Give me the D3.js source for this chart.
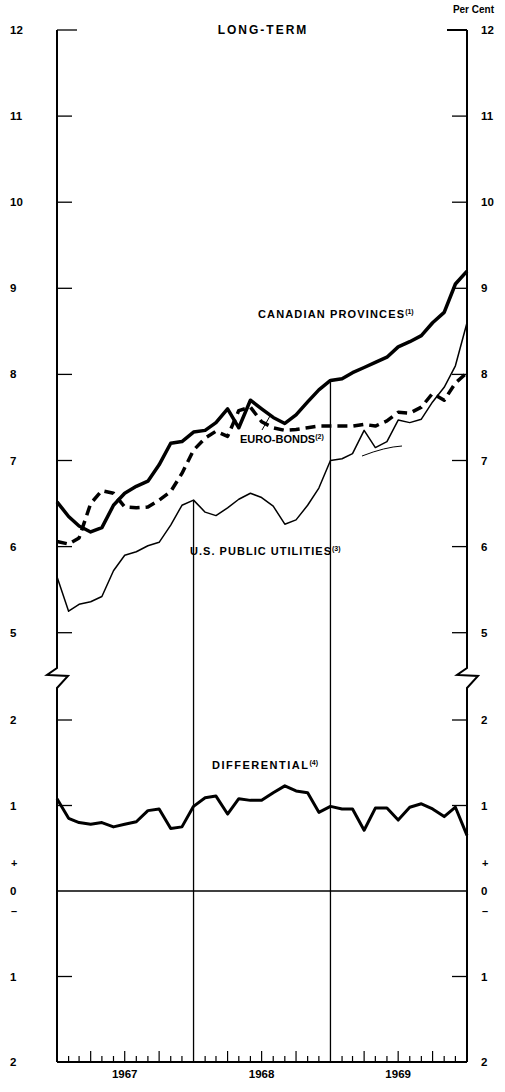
<!DOCTYPE html>
<html>
<head>
<meta charset="utf-8">
<script src="https://cdnjs.cloudflare.com/ajax/libs/d3/7.8.5/d3.min.js"></script>
<style>
  body { margin: 0; background: #fff; }
  text { font-family: "Liberation Sans", Arial, sans-serif; font-weight: bold; fill: #000; }
</style>
</head>
<body>
<div id="vis"></div>
<script>
const W = 505, H = 1092;
const x0 = 57, x1 = 467;

// monthly observations, Jan 1967 .. Jan 1970
const months = d3.timeMonth.range(new Date(1967, 0, 1), new Date(1970, 0, 2));

const canadian = [6.52, 6.35, 6.24, 6.17, 6.22, 6.48, 6.62, 6.70, 6.76, 6.95, 7.20, 7.22,
  7.33, 7.35, 7.44, 7.60, 7.38, 7.70, 7.60, 7.50, 7.43, 7.53, 7.68, 7.82,
  7.93, 7.95, 8.02, 8.08, 8.14, 8.20, 8.32, 8.38, 8.45, 8.60, 8.72, 9.05, 9.20];
const euroBonds = [6.06, 6.03, 6.10, 6.50, 6.65, 6.62, 6.46, 6.45, 6.46, 6.54, 6.64, 6.85,
  7.12, 7.26, 7.34, 7.28, 7.58, 7.62, 7.45, 7.38, 7.35, 7.36, 7.38, 7.40,
  7.40, 7.40, 7.40, 7.42, 7.40, 7.46, 7.56, 7.55, 7.62, 7.78, 7.70, 7.90, 8.02];
const usUtilities = [5.65, 5.25, 5.33, 5.36, 5.42, 5.72, 5.90, 5.94, 6.01, 6.05, 6.25, 6.48,
  6.54, 6.40, 6.36, 6.45, 6.55, 6.62, 6.57, 6.47, 6.26, 6.31, 6.48, 6.68,
  7.00, 7.02, 7.08, 7.35, 7.15, 7.22, 7.47, 7.44, 7.48, 7.68, 7.85, 8.10, 8.60];
const differential = [1.08, 0.85, 0.80, 0.78, 0.80, 0.75, 0.78, 0.81, 0.94, 0.96, 0.73, 0.75,
  0.99, 1.09, 1.11, 0.90, 1.08, 1.06, 1.06, 1.15, 1.23, 1.17, 1.15, 0.92,
  0.99, 0.96, 0.96, 0.71, 0.97, 0.97, 0.83, 0.98, 1.02, 0.96, 0.87, 0.98, 0.65];

const upperTicks = [5, 6, 7, 8, 9, 10, 11, 12];
const lowerTicks = [-2, -1, 0, 1, 2];
const years = [1967, 1968, 1969];
// year dividers start at these values on the upper scale
const dividerDates = [new Date(1968, 0, 1), new Date(1969, 0, 1)];
const dividerTops = [6.54, 7.93];

const svg = d3.select('#vis').append('svg')
  .attr('width', W).attr('height', H);

const x = d3.scaleTime().domain([new Date(1967, 0, 1), new Date(1970, 0, 1)]).range([x0, x1]);
const yU = d3.scaleLinear().domain([5, 12]).range([632.7, 30]);
const yL = d3.scaleLinear().domain([-2, 2]).range([1062, 720]);

// axes with break zigzags
function axisPath(ax) {
  const p = d3.path();
  p.moveTo(ax, yU(12));
  p.lineTo(ax, 668);
  p.lineTo(ax - 10, 675);
  p.lineTo(ax + 11, 676);
  p.lineTo(ax, 688);
  p.lineTo(ax, yL(-2));
  return p.toString();
}
[x0, x1].forEach(ax => {
  svg.append('path').attr('d', axisPath(ax))
    .attr('fill', 'none').attr('stroke', '#000').attr('stroke-width', 2);
});

// bottom axis
svg.append('line').attr('x1', x0).attr('x2', x1)
  .attr('y1', yL(-2)).attr('y2', yL(-2))
  .attr('stroke', '#000').attr('stroke-width', 2);

const monthTicks = d3.timeMonth.range(new Date(1967, 1, 1), new Date(1970, 0, 1));
svg.selectAll('.mtick').data(monthTicks).enter().append('line')
  .attr('class', 'mtick')
  .attr('x1', d => x(d)).attr('x2', d => x(d))
  .attr('y1', yL(-2))
  .attr('y2', d => yL(-2) - (d.getMonth() === 0 ? 0 : (d.getMonth() % 3 === 0 ? 11 : 6)))
  .attr('stroke', '#000').attr('stroke-width', 1.2);

// y ticks and labels
const tickLen = 15;
upperTicks.forEach(v => {
  svg.append('line').attr('x1', x0).attr('x2', x0 + tickLen + (v === 12 ? 5 : 0))
    .attr('y1', yU(v)).attr('y2', yU(v)).attr('stroke', '#000').attr('stroke-width', 1.3);
  svg.append('line').attr('x1', x1 - tickLen - (v === 12 ? 5 : 0)).attr('x2', x1)
    .attr('y1', yU(v)).attr('y2', yU(v)).attr('stroke', '#000').attr('stroke-width', v === 12 ? 2 : 1.3);
  svg.append('text').attr('x', 10).attr('y', yU(v) + 4).attr('font-size', 11.5).text(v);
  svg.append('text').attr('x', 481).attr('y', yU(v) + 4).attr('font-size', 11.5).text(v);
});
lowerTicks.forEach(v => {
  if (v !== 0 && v !== -2) {
    svg.append('line').attr('x1', x0).attr('x2', x0 + tickLen)
      .attr('y1', yL(v)).attr('y2', yL(v)).attr('stroke', '#000').attr('stroke-width', 1.3);
    svg.append('line').attr('x1', x1 - tickLen).attr('x2', x1)
      .attr('y1', yL(v)).attr('y2', yL(v)).attr('stroke', '#000').attr('stroke-width', 1.3);
  }
  svg.append('text').attr('x', 10).attr('y', yL(v) + 4).attr('font-size', 11.5).text(Math.abs(v));
  svg.append('text').attr('x', 481).attr('y', yL(v) + 4).attr('font-size', 11.5).text(Math.abs(v));
});
[10, 481].forEach(px => {
  svg.append('text').attr('x', px + 1).attr('y', yL(0) - 24).attr('font-size', 11).text('+');
  svg.append('text').attr('x', px + 1).attr('y', yL(0) + 24).attr('font-size', 11).text('\u2013');
});

// zero line
svg.append('line').attr('x1', x0).attr('x2', x1)
  .attr('y1', yL(0)).attr('y2', yL(0)).attr('stroke', '#000').attr('stroke-width', 1.5);

// year dividers
dividerDates.forEach((d, i) => {
  svg.append('line').attr('x1', x(d)).attr('x2', x(d))
    .attr('y1', yU(dividerTops[i])).attr('y2', yL(-2))
    .attr('stroke', '#000').attr('stroke-width', 1.3);
});

// year labels
svg.selectAll('.year').data(years).enter().append('text')
  .attr('class', 'year')
  .attr('x', d => x(new Date(d, 6, 1)))
  .attr('y', 1078).attr('text-anchor', 'middle').attr('font-size', 11.5)
  .text(d => d);

// series
const lineU = d3.line().x((d, i) => x(months[i])).y(d => yU(d));
const lineL = d3.line().x((d, i) => x(months[i])).y(d => yL(d));

svg.append('path').attr('d', lineU(usUtilities))
  .attr('fill', 'none').attr('stroke', '#000').attr('stroke-width', 1.5)
  .attr('stroke-linejoin', 'round');
svg.append('path').attr('d', lineU(euroBonds))
  .attr('fill', 'none').attr('stroke', '#000').attr('stroke-width', 3.5)
  .attr('stroke-dasharray', '10,6').attr('stroke-linejoin', 'round');
svg.append('path').attr('d', lineU(canadian))
  .attr('fill', 'none').attr('stroke', '#000').attr('stroke-width', 3.5)
  .attr('stroke-linejoin', 'round');
svg.append('path').attr('d', lineL(differential))
  .attr('fill', 'none').attr('stroke', '#000').attr('stroke-width', 3)
  .attr('stroke-linejoin', 'round');

// leader line for euro-bonds
svg.append('line').attr('x1', 262).attr('y1', 430).attr('x2', 270).attr('y2', 416)
  .attr('stroke', '#000').attr('stroke-width', 1);
// small pen stroke under the 1969 lines
svg.append('path').attr('d', 'M362,456 Q385,447 402,446')
  .attr('fill', 'none').attr('stroke', '#000').attr('stroke-width', 1);

// labels
function label(txt, sup, lx, ly, len) {
  const t = svg.append('text').attr('x', lx).attr('y', ly).attr('font-size', 11);
  const s = t.append('tspan').text(txt);
  if (len) s.attr('textLength', len).attr('lengthAdjust', 'spacing');
  t.append('tspan').attr('font-size', 7).attr('dy', -4).text(sup);
}
label('CANADIAN PROVINCES', '(1)', 258, 318, 146);
label('EURO-BONDS', '(2)', 240, 443, null);
label('U.S. PUBLIC UTILITIES', '(3)', 190, 555, 141);
label('DIFFERENTIAL', '(4)', 212, 769, 96);

svg.append('text').attr('x', 263).attr('y', 34).attr('text-anchor', 'middle')
  .attr('font-size', 12).attr('letter-spacing', 2).text('LONG-TERM');
svg.append('text').attr('x', 494).attr('y', 13).attr('text-anchor', 'end')
  .attr('font-size', 10).text('Per Cent');
</script>
</body>
</html>
